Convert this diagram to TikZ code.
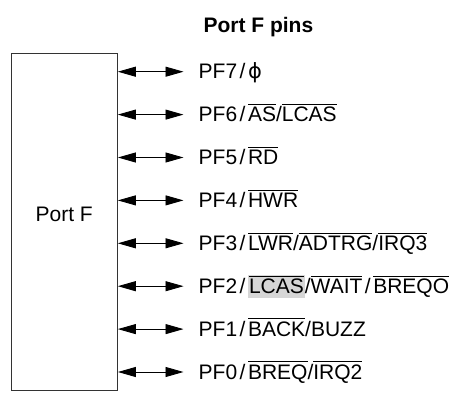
\documentclass[tikz,border=0pt]{standalone}
\usepackage{fontspec}
\setmainfont{Liberation Sans}
\newfontfamily\phifont{DejaVu Sans}
\usepackage{tikz}
\usetikzlibrary{positioning, arrows.meta, calc}
\usepackage{xcolor}
\usepackage{amsmath}

\definecolor{hlgray}{HTML}{D6D6D6}
\newcommand{\ovl}[1]{$\overline{\mbox{#1}}$}
\newcommand{\pfsl}{\hspace{2.5pt}/\hspace{2.5pt}}
\newcommand{\hlbox}[1]{{\setlength{\fboxsep}{0pt}\colorbox{hlgray}{\hspace{1pt}\rule[-4.5pt]{0pt}{22pt}#1\hspace{1pt}}}}

\begin{document}
\begin{tikzpicture}[
    x=1pt, y=-1pt,
    font=\fontsize{21}{24}\selectfont,
    port/.style={draw=black!80, line width=1pt, minimum width=106.3pt, minimum height=337.7pt, inner sep=0pt},
    pin/.style={anchor=west, inner sep=0pt, text height=18pt, text depth=3.4pt},
    pinarr/.style={{Triangle[length=18pt, width=10pt]}-{Triangle[length=18pt, width=10pt]}, line width=0.9pt, shorten >=15pt}
]
    \useasboundingbox (0,0) rectangle (453,409);

    \node[font=\fontsize{21}{24}\selectfont\bfseries, anchor=base west] (title) at (200,32.3) {Port F pins};

    \node[port] (portf) at (64.2,222) {};
    \node[anchor=base] (portlbl) at (portf.center) {Port F};

    \node[pin] (p7) at (198.5,71.7) {PF7\pfsl{\phifont ϕ}};
    \node[pin] (p6) at (198.5,114.6) {PF6\pfsl\ovl{AS}/\ovl{LCAS}};
    \node[pin] (p5) at (198.5,157.5) {PF5\pfsl\ovl{RD}};
    \node[pin] (p4) at (198.5,200.4) {PF4\pfsl\ovl{HWR}};
    \node[pin] (p3) at (198.5,243.3) {PF3\pfsl\ovl{LWR}/\ovl{ADTRG}/\ovl{IRQ3}};
    \node[pin] (p2) at (198.5,286.2) {PF2\pfsl\hlbox{\ovl{LCAS}}/\ovl{WAIT}\pfsl\ovl{BREQO}};
    \node[pin] (p1) at (198.5,329.1) {PF1\pfsl\ovl{BACK}/BUZZ};
    \node[pin] (p0) at (198.5,372) {PF0\pfsl\ovl{BREQ}/\ovl{IRQ2}};

    \draw[pinarr] (portf.east |- p7.west) -- (p7.west);
    \draw[pinarr] (portf.east |- p6.west) -- (p6.west);
    \draw[pinarr] (portf.east |- p5.west) -- (p5.west);
    \draw[pinarr] (portf.east |- p4.west) -- (p4.west);
    \draw[pinarr] (portf.east |- p3.west) -- (p3.west);
    \draw[pinarr] (portf.east |- p2.west) -- (p2.west);
    \draw[pinarr] (portf.east |- p1.west) -- (p1.west);
    \draw[pinarr] (portf.east |- p0.west) -- (p0.west);
\end{tikzpicture}
\end{document}
